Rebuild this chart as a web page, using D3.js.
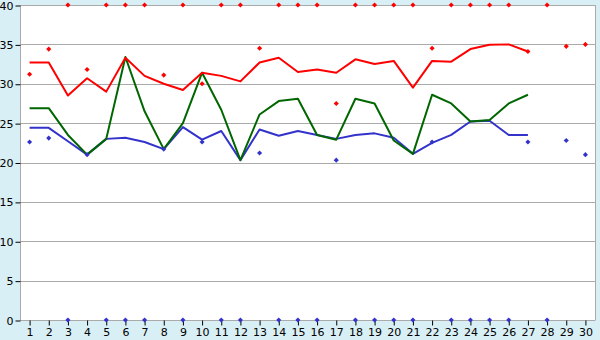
<!DOCTYPE html>
<html>
<head>
<meta charset="utf-8">
<script src="https://cdn.jsdelivr.net/npm/d3@7"></script>
<style>
  body { margin: 0; background: #d9eff6; }
  svg { display: block; }
  .tick text { font-family: "DejaVu Sans", sans-serif; font-size: 11px; fill: #000; }
</style>
</head>
<body>
<div id="chart"></div>
<script>
const width = 600;
const height = 340;

// days on the x axis
const days = d3.range(1, 31);
const yTicks = [0, 5, 10, 15, 20, 25, 30, 35, 40];

// lines (days 1..27)
const redLine = [32.7, 32.7, 28.5, 30.7, 29.0, 33.3, 31.0, 30.0, 29.2, 31.4,
  31.0, 30.3, 32.7, 33.3, 31.5, 31.8, 31.4, 33.1, 32.5, 32.9,
  29.5, 32.9, 32.8, 34.4, 34.95, 35.0, 34.1];
const greenLine = [26.9, 26.9, 23.5, 21.0, 23.0, 33.4, 26.5, 21.7, 25.0, 31.4,
  26.7, 20.3, 26.1, 27.8, 28.1, 23.5, 22.9, 28.1, 27.5, 22.8,
  21.1, 28.6, 27.5, 25.2, 25.4, 27.5, 28.6];
const blueLine = [24.4, 24.4, 22.7, 21.0, 23.0, 23.15, 22.6, 21.7, 24.5, 22.9,
  24.0, 20.3, 24.2, 23.4, 24.0, 23.5, 23.0, 23.5, 23.7, 23.15,
  21.1, 22.5, 23.5, 25.2, 25.3, 23.5, 23.5];

// points (days 1..30)
const redPoints = [31.2, 34.4, 40, 31.8, 40, 40, 40, 31.1, 40, 30.0,
  40, 40, 34.5, 40, 40, 40, 27.5, 40, 40, 40,
  40, 34.5, 40, 40, 40, 40, 34.1, 40, 34.75, 35.0];
const bluePoints = [22.6, 23.1, 0, 21.0, 0, 0, 0, 21.7, 0, 22.6,
  0, 0, 21.2, 0, 0, 0, 20.3, 0, 0, 0,
  0, 22.6, 0, 0, 0, 0, 22.6, 0, 22.8, 21.0];

const margin = { top: 5, right: 5, bottom: 20, left: 20 };

const svg = d3.select('#chart').append('svg')
  .attr('width', width)
  .attr('height', height);

const xScale = d3.scaleBand()
  .domain(days)
  .range([margin.left, width - margin.right]);

const yScale = d3.scaleLinear()
  .domain([0, 40])
  .range([height - margin.bottom, margin.top]);

const cx = (d) => xScale(d) + xScale.bandwidth() / 2;

// plot background
svg.append('rect')
  .attr('x', margin.left)
  .attr('y', margin.top)
  .attr('width', width - margin.left - margin.right)
  .attr('height', height - margin.top - margin.bottom)
  .attr('fill', '#fff');

// gridlines
svg.append('g')
  .selectAll('line')
  .data(yTicks)
  .join('line')
  .attr('x1', margin.left)
  .attr('x2', width - margin.right)
  .attr('y1', (d) => Math.round(yScale(d)) + 0.5)
  .attr('y2', (d) => Math.round(yScale(d)) + 0.5)
  .attr('stroke', '#aaa');

// plot border left / right
svg.append('line')
  .attr('x1', margin.left + 0.5).attr('x2', margin.left + 0.5)
  .attr('y1', margin.top).attr('y2', height - margin.bottom)
  .attr('stroke', '#aaa');
svg.append('line')
  .attr('x1', width - margin.right + 0.5).attr('x2', width - margin.right + 0.5)
  .attr('y1', margin.top).attr('y2', height - margin.bottom + 0.5)
  .attr('stroke', '#aaa');

// y axis
const yAxis = d3.axisLeft(yScale)
  .tickValues(yTicks)
  .tickSize(5)
  .tickPadding(2);
svg.append('g')
  .attr('transform', `translate(${margin.left + 0.5}, 0.5)`)
  .call(yAxis)
  .call((g) => g.select('.domain').remove())
  .call((g) => g.selectAll('.tick line').attr('stroke', '#000'));

// x axis
const xAxis = d3.axisBottom(xScale)
  .tickSize(5)
  .tickPadding(3);
svg.append('g')
  .attr('transform', `translate(0.5, ${Math.round(yScale(0)) + 0.5})`)
  .call(xAxis)
  .call((g) => g.select('.domain').remove())
  .call((g) => g.selectAll('.tick line').attr('stroke', '#000'));

// lines
const line = d3.line()
  .x((d, i) => cx(days[i]))
  .y((d) => yScale(d));

const series = [
  { values: blueLine, color: '#3333cc' },
  { values: greenLine, color: '#006600' },
  { values: redLine, color: '#ff0000' },
];

svg.append('g')
  .selectAll('path')
  .data(series)
  .join('path')
  .attr('d', (d) => line(d.values))
  .attr('fill', 'none')
  .attr('stroke', (d) => d.color)
  .attr('stroke-width', 2)
  .attr('stroke-linejoin', 'round');

// points: small square diamonds
const symbol = d3.symbol().type(d3.symbolSquare).size(13);

const pointSets = [
  { values: bluePoints, color: '#3333cc' },
  { values: redPoints, color: '#ff0000' },
];

pointSets.forEach((set) => {
  svg.append('g')
    .selectAll('path')
    .data(set.values)
    .join('path')
    .attr('d', symbol)
    .attr('transform', (d, i) => `translate(${cx(days[i])}, ${yScale(d)}) rotate(45)`)
    .attr('fill', set.color);
});
</script>
</body>
</html>
